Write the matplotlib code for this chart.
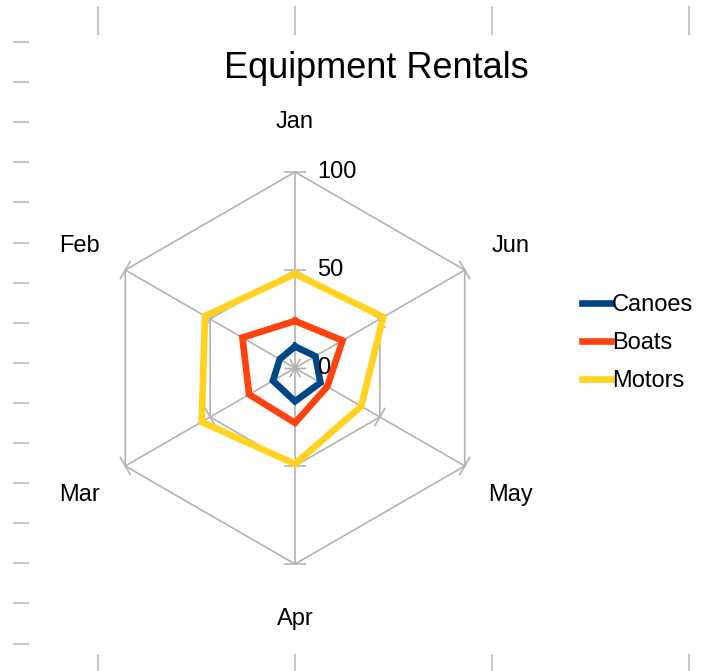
import numpy as np
import matplotlib
matplotlib.use("Agg")
import matplotlib.pyplot as plt
from matplotlib.lines import Line2D

months = ["Jan", "Feb", "Mar", "Apr", "May", "Jun"]
canoes = [11, 9, 13, 17, 15, 12]
boats = [24, 31, 27, 28, 19, 28]
motors = [48, 53, 55, 49, 39, 52]
series_names = ["Canoes", "Boats", "Motors"]
colors = ["#004586", "#ff420e", "#ffd320"]
radial_ticks = [0, 50, 100]

plt.rcParams['font.family'] = ['Liberation Sans', 'DejaVu Sans']

W, H = 725, 671
fig = plt.figure(figsize=(W / 100, H / 100), dpi=100)

# sheet grid marks in background
grey = "#c8c8c8"
for k in range(16):
    y = 42 + 40.1 * k
    fig.add_artist(Line2D([14 / W, 28 / W], [1 - y / H, 1 - y / H], color=grey, lw=1.5))
for x in [98, 295, 492, 689]:
    fig.add_artist(Line2D([x / W, x / W], [1 - 7 / H, 1 - 34 / H], color=grey, lw=1.5))
    fig.add_artist(Line2D([x / W, x / W], [1 - 655 / H, 0], color=grey, lw=1.5))

cx, cy, R = 295, 368, 196
ax = fig.add_axes([(cx - R) / W, 1 - (cy + R) / H, 2 * R / W, 2 * R / H], projection='polar')
ax.set_theta_zero_location('N')
ax.set_theta_direction(1)
ax.set_ylim(0, 100)
ax.grid(False)
ax.spines['polar'].set_visible(False)
ax.set_xticks([])
ax.set_yticks([])
ax.patch.set_alpha(0)

n = len(months)
theta = np.arange(n) * 2 * np.pi / n
closed = np.append(theta, theta[0])

gc = "#b3b3b3"
for r in radial_ticks[1:]:
    ax.plot(closed, [r] * (n + 1), color=gc, lw=1.2, clip_on=False, zorder=1)
for t in theta:
    ax.plot([t, t], [0, 100], color=gc, lw=1.2, clip_on=False, zorder=1)
    for r in radial_ticks:
        h = 5.0
        if r == 0:
            ax.plot([t + np.pi / 2, t + np.pi / 2], [0, h], color=gc, lw=1.0, zorder=1)
            ax.plot([t - np.pi / 2, t - np.pi / 2], [0, h], color=gc, lw=1.0, zorder=1)
        else:
            rr = np.hypot(r, h)
            da = np.arctan2(h, r)
            ax.plot([t - da, t + da], [rr, rr], color=gc, lw=1.2, clip_on=False, zorder=1)

for name, vals, c in zip(series_names, [canoes, boats, motors], colors):
    ax.plot(closed, vals + [vals[0]], color=c, lw=4.8, label=name, zorder=3,
            solid_joinstyle='miter', clip_on=False)

for t, m in zip(theta, months):
    ax.text(t, 127, m, ha='center', va='center_baseline', fontsize=17, clip_on=False)

for r in radial_ticks:
    ax.annotate(str(r), xy=(0, r), xytext=(22, 0), textcoords='offset pixels',
                ha='left', va='center', fontsize=17)

fig.text(376 / W, 1 - 68 / H, "Equipment Rentals", ha='center', va='center', fontsize=26)

handles = [Line2D([0], [0], color=c, lw=4.8) for c in colors]
fig.legend(handles, series_names, loc='center left', bbox_to_anchor=(573 / W, 1 - 343 / H),
           frameon=False, fontsize=17, handlelength=1.2, handletextpad=0.05,
           labelspacing=0.68, borderaxespad=0)

fig.savefig("out.png", dpi=100)
